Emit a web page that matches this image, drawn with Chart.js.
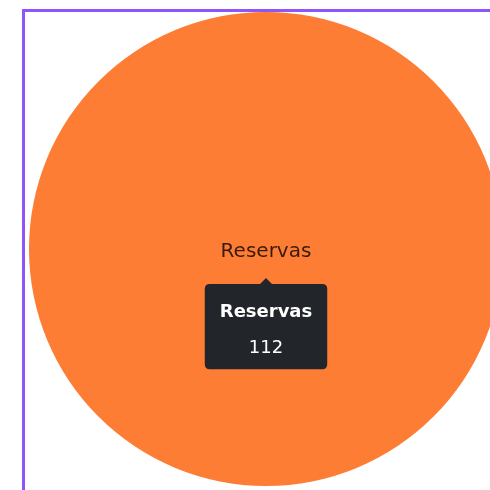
<!DOCTYPE html>
<html>
<head>
<meta charset="utf-8">
<script src="https://cdn.jsdelivr.net/npm/chart.js@4.4.1/dist/chart.umd.min.js"></script>
<style>
  html, body { margin: 0; padding: 0; overflow: hidden; background: #fff; width: 490px; height: 490px; }
  #cajaReservas { position: absolute; left: 22px; top: 9px; width: 482px; height: 520px; border: 3px solid #8d55fa; }
  #graficoReservas { display: block; }
</style>
</head>
<body>
<div id="cajaReservas">
  <canvas id="graficoReservas" width="482" height="474"></canvas>
</div>
<script>
// Datos del gráfico
const etiquetas = ['Reservas'];
const valores = [112];
const colores = ['#fe7d35'];

// Etiqueta en el centro de cada porción
const etiquetaCentro = {
    id: 'etiquetaCentro',
    afterDatasetsDraw(chart) {
        const ctx = chart.ctx;
        chart.getDatasetMeta(0).data.forEach((arco, i) => {
            ctx.save();
            ctx.font = '20px "DejaVu Sans"';
            ctx.fillStyle = 'rgba(0, 0, 0, 0.78)';
            ctx.textAlign = 'center';
            ctx.textBaseline = 'middle';
            ctx.fillText(chart.data.labels[i], arco.x, arco.y + 3);
            ctx.restore();
        });
    }
};

// Tooltip justo debajo del centro
Chart.Tooltip.positioners.bajoCentro = function (items) {
    if (!items.length) return false;
    const el = items[0].element;
    return { x: el.x, y: el.y + 27 };
};

const ctx = document.getElementById('graficoReservas').getContext('2d');
const grafico = new Chart(ctx, {
    type: 'pie',
    data: {
        labels: etiquetas,
        datasets: [{ data: valores, backgroundColor: colores, borderWidth: 0, hoverOffset: 0 }]
    },
    options: {
        responsive: false,
        animation: false,
        events: [],
        plugins: {
            legend: { display: false },
            tooltip: {
                position: 'bajoCentro',
                yAlign: 'top',
                xAlign: 'center',
                backgroundColor: '#222529',
                titleColor: '#fff',
                bodyColor: '#fff',
                titleFont: { family: '"DejaVu Sans"', size: 18, weight: 'bold' },
                bodyFont: { family: '"DejaVu Sans"', size: 18 },
                titleAlign: 'center',
                bodyAlign: 'center',
                padding: { top: 18, bottom: 10, left: 15, right: 15 },
                titleMarginBottom: 14,
                caretSize: 6,
                caretPadding: 2,
                cornerRadius: 5,
                displayColors: false,
                callbacks: {
                    title: (items) => items[0].label,
                    label: (item) => String(item.raw)
                }
            }
        }
    },
    plugins: [etiquetaCentro]
});

grafico.tooltip.setActiveElements([{ datasetIndex: 0, index: 0 }], { x: 0, y: 0 });
grafico.update();
</script>
</body>
</html>
